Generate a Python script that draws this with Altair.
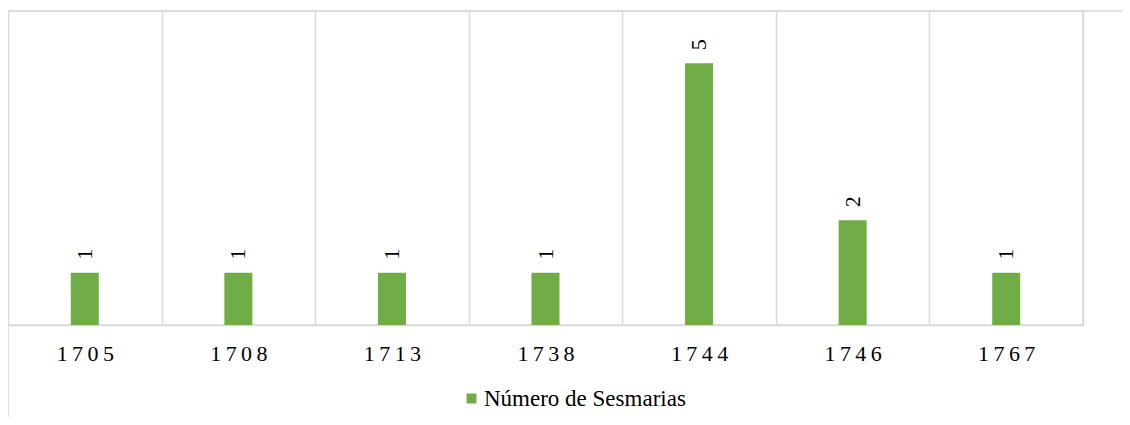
import altair as alt
import pandas as pd

years = ["1705", "1708", "1713", "1738", "1744", "1746", "1767"]
counts = [1, 1, 1, 1, 5, 2, 1]
series_name = "Número de Sesmarias"

# Excel-style character spacing on the category labels
labels = ["\u2009".join(y) for y in years]

df = pd.DataFrame({"year": labels, "count": counts, "series": [series_name] * len(years)})

GREEN = "#70AD47"
GRID = "#D9D9D9"
FONT = "Liberation Serif"

x_enc = alt.X(
    "year:N",
    sort=labels,
    scale=alt.Scale(paddingInner=0, paddingOuter=0),
    axis=alt.Axis(
        title=None,
        grid=True,
        gridColor=GRID,
        gridWidth=1.5,
        tickBand="extent",
        ticks=False,
        domain=True,
        domainColor=GRID,
        domainWidth=1.5,
        labelAngle=0,
        labelFont=FONT,
        labelFontSize=22,
        labelColor="#000000",
        labelPadding=18,
    ),
)
y_enc = alt.Y("count:Q", scale=alt.Scale(domain=[0, 6], nice=False), axis=None)

base = alt.Chart(df)

bars = base.mark_bar(size=28).encode(
    x=x_enc,
    y=y_enc,
    color=alt.Color(
        "series:N",
        scale=alt.Scale(domain=[series_name], range=[GREEN]),
        legend=alt.Legend(
            title=None,
            orient="none",
            legendX=452,
            legendY=376,
            symbolType="square",
            symbolSize=100,
            symbolStrokeWidth=0,
            labelFont=FONT,
            labelFontSize=23,
            labelColor="#000000",
            labelOffset=1,
            labelLimit=0,
        ),
    ),
)

text = base.mark_text(
    angle=270, align="left", baseline="middle", dx=13, font=FONT, fontSize=22, color="#000000"
).encode(x=x_enc, y=y_enc, text="count:Q")

frame_df = pd.DataFrame({"k": [0]})
top_line = alt.Chart(frame_df).mark_rule(color=GRID, strokeWidth=1.5).encode(
    x=alt.value(0), x2=alt.value(1130), y=alt.value(0)
)
left_line = alt.Chart(frame_df).mark_rule(color=GRID, strokeWidth=1.5).encode(
    x=alt.value(0), y=alt.value(0), y2=alt.value(430)
)

chart = (
    alt.layer(top_line, left_line, bars, text)
    .properties(
        width=1075,
        height=314,
        autosize=alt.AutoSizeParams(type="none"),
        padding={"left": 0, "top": 3, "right": 39, "bottom": 92},
        background="white",
    )
    .configure_view(stroke=GRID, strokeWidth=1.5)
)

chart.save("out.html", embed_options={"renderer": "svg", "actions": False})
